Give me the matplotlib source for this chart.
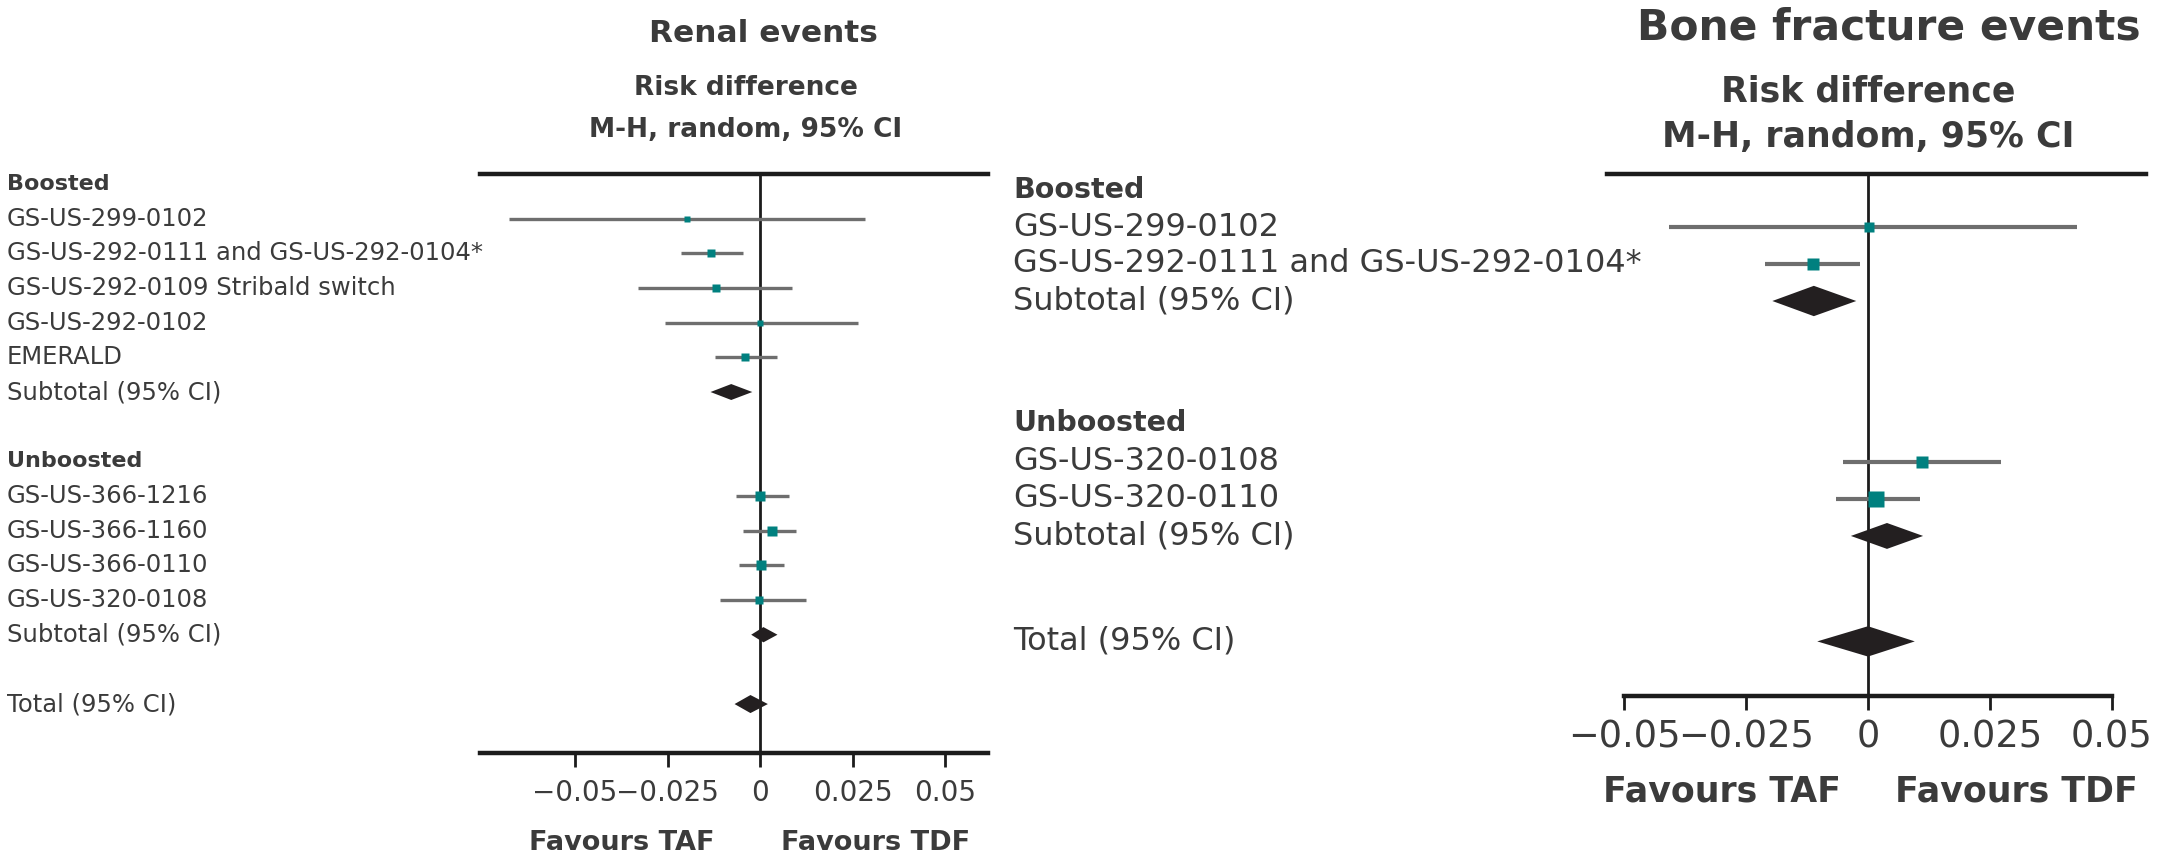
import matplotlib
matplotlib.use("Agg")
import matplotlib.pyplot as plt
import matplotlib.transforms as mtransforms
import numpy as np

plt.rcParams['font.family'] = ['DejaVu Sans']

# ---------------- data ----------------
tick_values = [-0.05, -0.025, 0, 0.025, 0.05]
tick_labels = ["\u22120.05", "\u22120.025", "0", "0.025", "0.05"]

# Renal events
renal_boosted_studies = ["GS-US-299-0102", "GS-US-292-0111 and GS-US-292-0104*",
                         "GS-US-292-0109 Stribald switch", "GS-US-292-0102", "EMERALD"]
renal_boosted_rd = [-0.0198, -0.0133, -0.0119, 0.0000, -0.0041]
renal_boosted_lo = [-0.0678, -0.0214, -0.0331, -0.0257, -0.0121]
renal_boosted_hi = [0.0284, -0.0047, 0.0086, 0.0264, 0.0047]
renal_boosted_weight = [3.0, 6.5, 6.5, 3.0, 6.5]

renal_unboosted_studies = ["GS-US-366-1216", "GS-US-366-1160", "GS-US-366-0110", "GS-US-320-0108"]
renal_unboosted_rd = [0.0000, 0.0033, 0.0003, -0.0002]
renal_unboosted_lo = [-0.0066, -0.0047, -0.0057, -0.0109]
renal_unboosted_hi = [0.0078, 0.0097, 0.0064, 0.0124]
renal_unboosted_weight = [9.0, 10.0, 10.0, 6.5]

renal_subtotal_rd = [-0.0078, 0.0009]
renal_subtotal_lo = [-0.0134, -0.0024]
renal_subtotal_hi = [-0.0021, 0.0047]
renal_total = [-0.0026, -0.0069, 0.0021]   # estimate, low, high

# Bone fracture events
bone_boosted_studies = ["GS-US-299-0102", "GS-US-292-0111 and GS-US-292-0104*"]
bone_boosted_rd = [0.0003, -0.0113]
bone_boosted_lo = [-0.0408, -0.0212]
bone_boosted_hi = [0.0428, -0.0017]
bone_boosted_weight = [5.0, 9.5]

bone_unboosted_studies = ["GS-US-320-0108", "GS-US-320-0110"]
bone_unboosted_rd = [0.0110, 0.0017]
bone_unboosted_lo = [-0.0051, -0.0065]
bone_unboosted_hi = [0.0273, 0.0107]
bone_unboosted_weight = [9.5, 16.0]

bone_subtotal_rd = [-0.0111, 0.0039]
bone_subtotal_lo = [-0.0196, -0.0035]
bone_subtotal_hi = [-0.0024, 0.0113]
bone_total = [0.0000, -0.0104, 0.0096]

# ---------------- layout / style ----------------
W, H = 2157, 861
fig = plt.figure(figsize=(W / 100, H / 100), dpi=100)


def fx(px):
    return px / W


def fy(py):
    return 1 - py / H


TEXT = '#3b3b3b'
CI_COL = '#6e6e6e'
SQ_COL = '#00807f'
DIA_COL = '#231f20'
AX_COL = '#1c1c1c'


def draw_panel(cfg):
    x0, x1, top_px, bot_px = cfg['box']
    ax = fig.add_axes([fx(x0), fy(bot_px), (x1 - x0) / W, (bot_px - top_px) / H])
    row0, rowpx = cfg['row0'], cfg['rowpx']
    ax.set_xlim(*cfg['xlim'])
    ax.set_ylim((bot_px - row0) / rowpx, (top_px - row0) / rowpx)
    ax.patch.set_alpha(0)
    for s in ['left', 'right']:
        ax.spines[s].set_visible(False)
    ax.spines['top'].set_linewidth(3.2)
    ax.spines['top'].set_color(AX_COL)
    ax.spines['bottom'].set_linewidth(3.2)
    ax.spines['bottom'].set_color(AX_COL)
    if cfg.get('bottom_bounds'):
        ax.spines['bottom'].set_bounds(*cfg['bottom_bounds'])
    ax.set_yticks([])
    ax.set_xticks(tick_values)
    ax.set_xticklabels(tick_labels)
    ax.tick_params(axis='x', direction='out', length=10, width=2.0, color=AX_COL,
                   labelcolor=TEXT, labelsize=cfg['ticksize'], pad=cfg['tickpad'])
    ax.axvline(0, color=AX_COL, lw=2.0, zorder=2)

    lab_tr = mtransforms.blended_transform_factory(fig.transFigure, ax.transData)
    lx = fx(cfg['label_x'])
    ri = iter(cfg['rows'])

    def label(text, r, bold=False, size=None):
        ax.text(lx, r, text, transform=lab_tr, ha='left', va='center',
                fontsize=size or cfg['labsize'], color=TEXT,
                fontweight='bold' if bold else 'normal', clip_on=False)

    def study(name, est, lo, hi, w):
        r = next(ri)
        label(name, r)
        ax.plot([lo, hi], [r, r], color=CI_COL, lw=cfg['ci_lw'],
                solid_capstyle='butt', zorder=3)
        side = cfg['sq_k'] * np.sqrt(w)
        ax.plot([est], [r], marker='s', ms=side * 0.72, color=SQ_COL,
                mec='none', ls='none', zorder=5)

    def diamond(name, est, lo, hi, half):
        r = next(ri)
        label(name, r)
        ax.fill([lo, est, hi, est], [r, r - half, r, r + half],
                color=DIA_COL, lw=0, zorder=5)

    for gi, g in enumerate(cfg['groups']):
        label(g['name'], next(ri), bold=True, size=cfg['headsize'])
        for n, e, lo, hi, w in zip(g['studies'], g['rd'], g['lo'], g['hi'], g['w']):
            study(n, e, lo, hi, w)
        diamond("Subtotal (95% CI)", cfg['sub_rd'][gi], cfg['sub_lo'][gi],
                cfg['sub_hi'][gi], cfg['sub_half'][gi])
    t = cfg['total']
    diamond("Total (95% CI)", t[0], t[1], t[2], cfg['tot_half'])

    fav_tr = mtransforms.blended_transform_factory(ax.transData, fig.transFigure)
    for xv, txt in zip(cfg['fav_x'], ["Favours TAF", "Favours TDF"]):
        ax.text(xv, fy(cfg['fav_y']), txt, transform=fav_tr, ha='center', va='center',
                fontsize=cfg['favsize'], fontweight='bold', color=TEXT, clip_on=False)

    tx, ty = cfg['title_pos']
    fig.text(fx(tx), fy(ty), cfg['title'], ha='center', va='baseline',
             fontsize=cfg['titlesize'], fontweight='bold', color=TEXT)
    sx, sy1, sy2 = cfg['sub_pos']
    fig.text(fx(sx), fy(sy1), "Risk difference", ha='center', va='baseline',
             fontsize=cfg['subsize'], fontweight='bold', color=TEXT)
    fig.text(fx(sx), fy(sy2), "M-H, random, 95% CI", ha='center', va='baseline',
             fontsize=cfg['subsize'], fontweight='bold', color=TEXT)
    return ax


renal_cfg = dict(
    box=(480, 988, 174, 753), xlim=(-0.0757, 0.0616),
    row0=184, rowpx=34.67,
    rows=[0, 1, 2, 3, 4, 5, 6, 8, 9, 10, 11, 12, 13, 15],
    label_x=7, labsize=17.5, headsize=16, ticksize=20, tickpad=9,
    ci_lw=2.4, sq_k=3.2,
    groups=[dict(name="Boosted", studies=renal_boosted_studies, rd=renal_boosted_rd,
                 lo=renal_boosted_lo, hi=renal_boosted_hi, w=renal_boosted_weight),
            dict(name="Unboosted", studies=renal_unboosted_studies, rd=renal_unboosted_rd,
                 lo=renal_unboosted_lo, hi=renal_unboosted_hi, w=renal_unboosted_weight)],
    sub_rd=renal_subtotal_rd, sub_lo=renal_subtotal_lo, sub_hi=renal_subtotal_hi,
    sub_half=[0.23, 0.22], total=renal_total, tot_half=0.26,
    fav_x=[-0.0373, 0.0311], fav_y=843, favsize=19.5,
    title="Renal events", title_pos=(763, 42), titlesize=22.5,
    sub_pos=(746, 95, 137), subsize=19,
)

bone_cfg = dict(
    box=(1607, 2146, 174, 696), xlim=(-0.0535, 0.0570), bottom_bounds=(-0.05, 0.05),
    row0=190, rowpx=37.0,
    rows=[0, 1, 2, 3, 6.3, 7.35, 8.35, 9.35, 12.2],
    label_x=1013, labsize=23, headsize=20.5, ticksize=26.5, tickpad=6,
    ci_lw=3.0, sq_k=4.1,
    groups=[dict(name="Boosted", studies=bone_boosted_studies, rd=bone_boosted_rd,
                 lo=bone_boosted_lo, hi=bone_boosted_hi, w=bone_boosted_weight),
            dict(name="Unboosted", studies=bone_unboosted_studies, rd=bone_unboosted_rd,
                 lo=bone_unboosted_lo, hi=bone_unboosted_hi, w=bone_unboosted_weight)],
    sub_rd=bone_subtotal_rd, sub_lo=bone_subtotal_lo, sub_hi=bone_subtotal_hi,
    sub_half=[0.41, 0.35], total=bone_total, tot_half=0.41,
    fav_x=[-0.0300, 0.0305], fav_y=792, favsize=25,
    title="Bone fracture events", title_pos=(1889, 40), titlesize=30.5,
    sub_pos=(1868, 102, 147), subsize=25,
)

draw_panel(renal_cfg)
draw_panel(bone_cfg)

fig.savefig("out.png", dpi=100, facecolor='white')
